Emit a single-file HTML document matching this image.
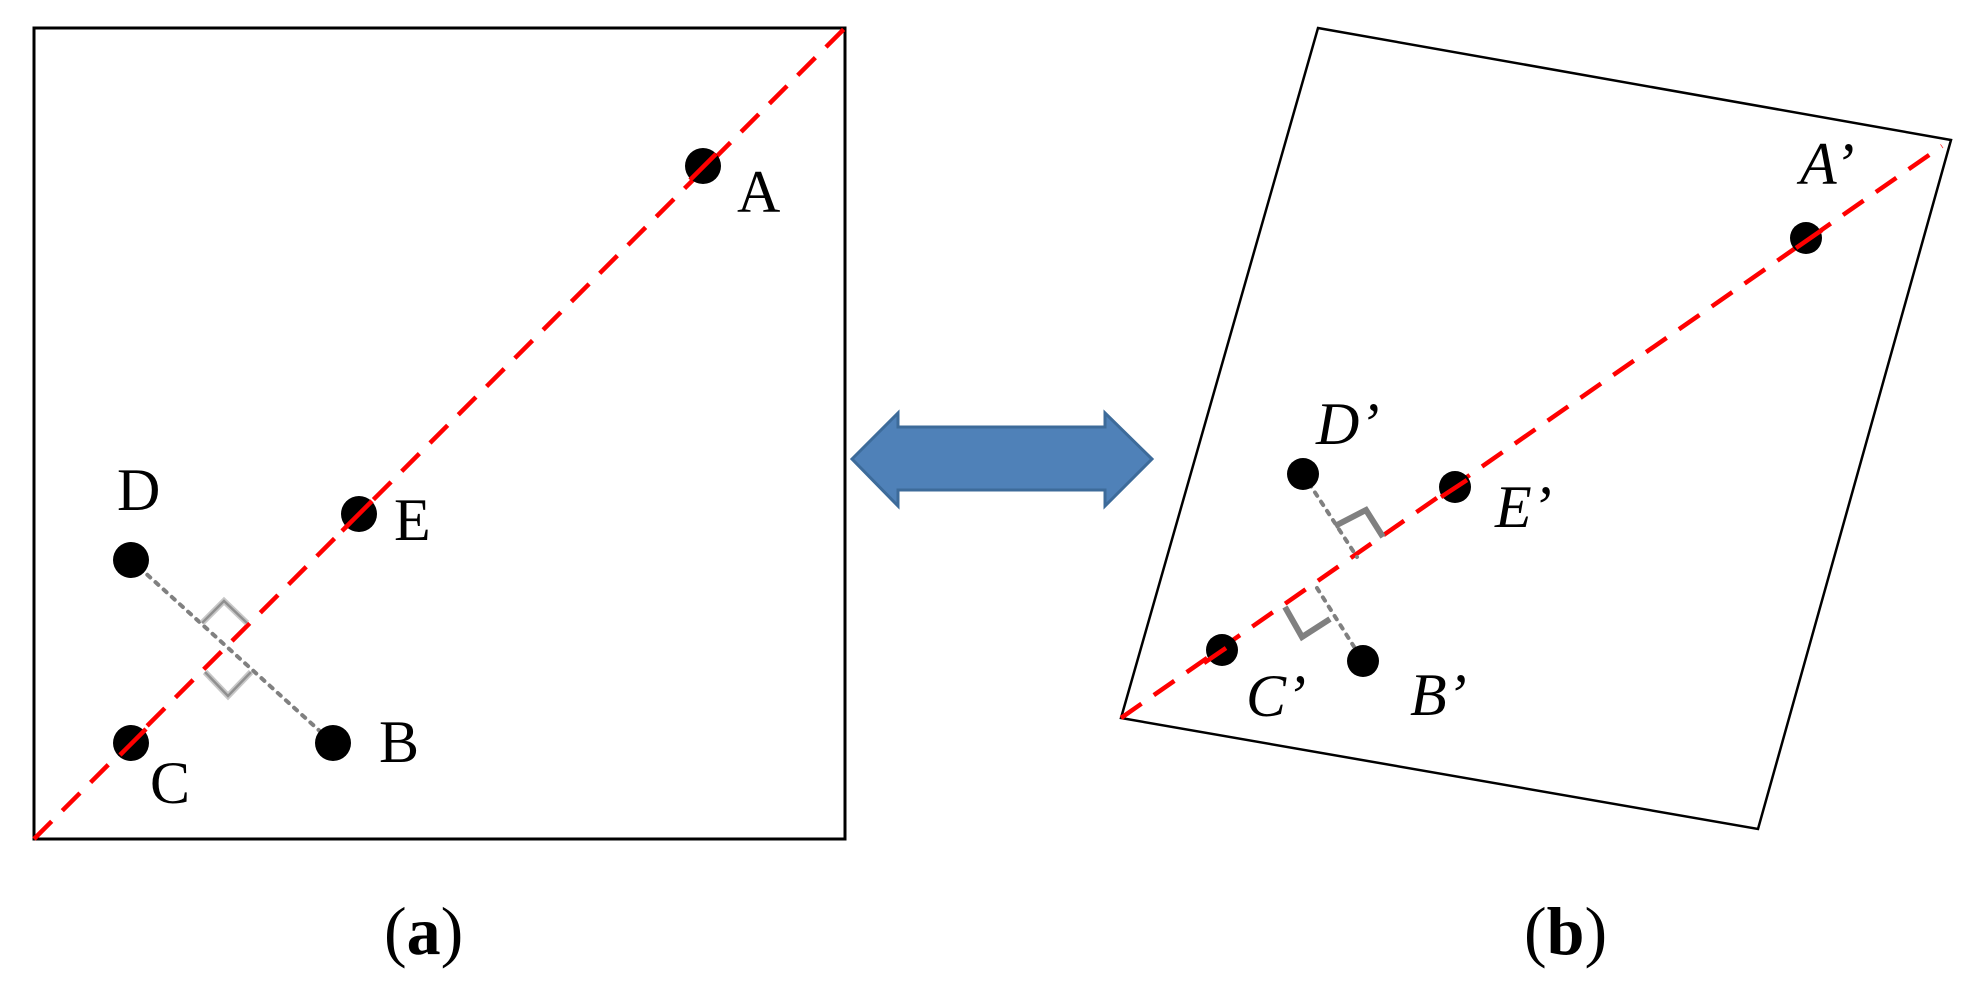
<!DOCTYPE html>
<html><head><meta charset="utf-8"><style>html,body{margin:0;padding:0;background:#fff}svg{display:block}</style></head>
<body>
<svg width="1975" height="989" viewBox="0 0 1975 989" xmlns="http://www.w3.org/2000/svg" font-family="Liberation Serif, serif">
<rect x="34" y="28" width="811" height="811" fill="none" stroke="#000" stroke-width="3"/>
<line x1="34" y1="839" x2="845" y2="28" stroke="#f00" stroke-width="4.5" stroke-dasharray="25,15"/>
<line x1="131" y1="560" x2="333" y2="743" stroke="#808080" stroke-width="4" stroke-dasharray="4,7" stroke-linecap="round"/>
<polyline points="202,623 224,601 247,623" fill="none" stroke="#c8c8c8" stroke-width="6"/>
<polyline points="202,623 224,601 247,623" fill="none" stroke="#909090" stroke-width="2.5"/>
<polyline points="205,672 228,696 251,672" fill="none" stroke="#c8c8c8" stroke-width="6"/>
<polyline points="205,672 228,696 251,672" fill="none" stroke="#909090" stroke-width="2.5"/>
<g fill="#000">
<circle cx="703" cy="166" r="18"/><circle cx="359" cy="514" r="18"/><circle cx="131" cy="560" r="18"/><circle cx="131" cy="743" r="18"/><circle cx="333" cy="743" r="18"/>
</g>
<line x1="690" y1="180" x2="716" y2="154" stroke="#f00" stroke-width="4.5"/>
<line x1="342" y1="531" x2="372" y2="501" stroke="#f00" stroke-width="4.5"/>
<line x1="120" y1="755" x2="146" y2="729" stroke="#f00" stroke-width="4.5"/>
<g font-size="60" fill="#000">
<text x="737" y="212">A</text><text x="394" y="540">E</text><text x="117" y="510">D</text><text x="379" y="762">B</text><text x="150" y="803">C</text>
</g>
<polygon points="852,459 898,413 898,427 1105,427 1105,413 1152,459 1105,506 1105,490 898,490 898,506" fill="#4f81b8" stroke="#3d6b9a" stroke-width="3"/>
<polygon points="1318,28 1951,140 1758,829 1121,718" fill="none" stroke="#000" stroke-width="2.5"/>
<line x1="1121" y1="718" x2="1942" y2="146" stroke="#f00" stroke-width="4.5" stroke-dasharray="25,15"/>
<line x1="1303" y1="474" x2="1357" y2="557" stroke="#808080" stroke-width="4" stroke-dasharray="4,7" stroke-linecap="round"/>
<line x1="1317" y1="588" x2="1363" y2="661" stroke="#808080" stroke-width="4" stroke-dasharray="4,7" stroke-linecap="round"/>
<polyline points="1335,526 1366,510 1383,537" fill="none" stroke="#808080" stroke-width="6"/>
<polyline points="1285,607 1302,637 1330,619" fill="none" stroke="#808080" stroke-width="6"/>
<g fill="#000">
<circle cx="1806" cy="238" r="16"/><circle cx="1455" cy="487" r="16"/><circle cx="1303" cy="474" r="16"/><circle cx="1222" cy="650" r="16"/><circle cx="1363" cy="661" r="16"/>
</g>
<line x1="1796" y1="248" x2="1822" y2="230" stroke="#f00" stroke-width="4.5"/>
<line x1="1441" y1="497" x2="1467" y2="480" stroke="#f00" stroke-width="4.5"/>
<line x1="1204" y1="663" x2="1226" y2="648" stroke="#f00" stroke-width="4.5"/>
<g font-size="60" fill="#000" font-style="italic">
<text x="1800" y="184">A’</text><text x="1495" y="527">E’</text><text x="1316" y="444">D’</text><text x="1246" y="716">C’</text><text x="1410" y="715">B’</text>
</g>
<g font-size="68" fill="#000">
<text x="384" y="954">(<tspan font-weight="bold">a</tspan>)</text>
<text x="1524" y="954">(<tspan font-weight="bold">b</tspan>)</text>
</g>
</svg>
</body></html>
